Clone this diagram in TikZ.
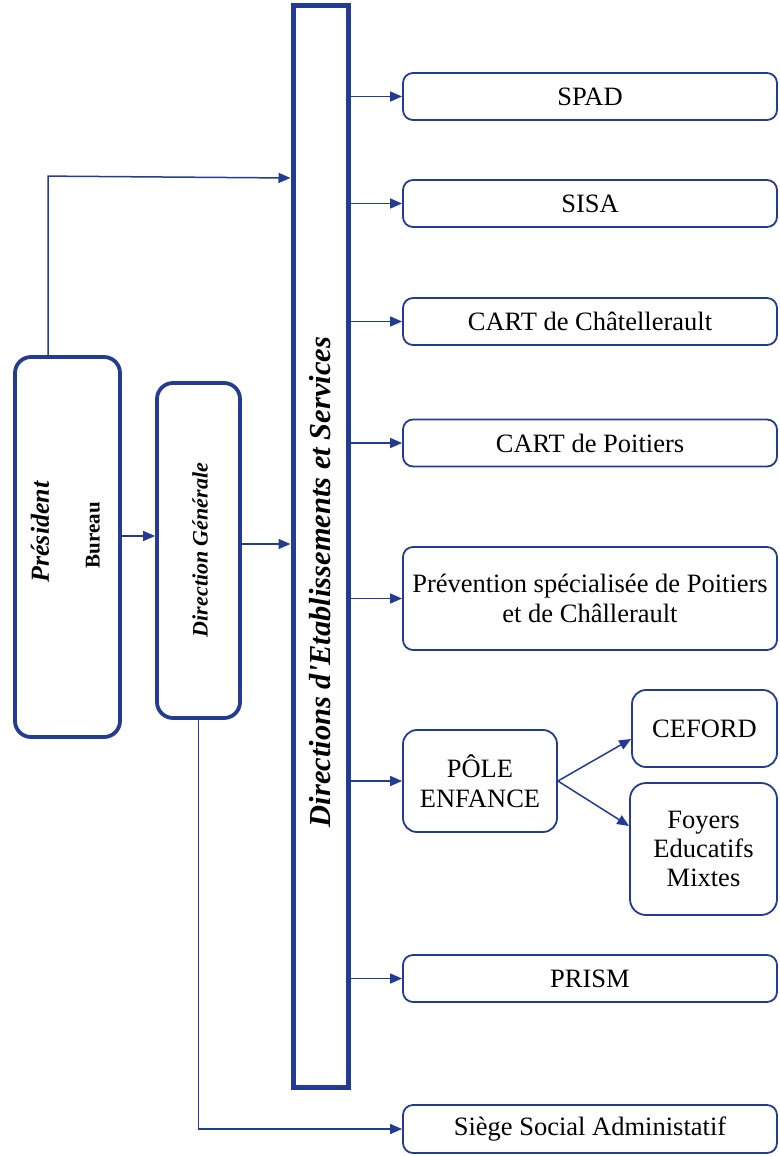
\documentclass[tikz,border=0pt]{standalone}
\usepackage{fontspec}
\setmainfont{Liberation Serif}[Ligatures=TeXOff]
\usetikzlibrary{arrows.meta}
\definecolor{bl}{RGB}{35,60,145}
\tikzset{
  arr/.style={draw=bl, line width=1.5pt, -{Triangle[length=12pt,width=10pt]}},
  rbox/.style={draw=bl, line width=1.8pt, rounded corners=10pt, inner sep=0pt, align=center,
    font=\fontsize{26.5}{30.5}\selectfont},
  lbox/.style={draw=bl, line width=3.8pt, rounded corners=16pt, inner sep=0pt},
  tallbox/.style={draw=bl, line width=5pt, inner sep=0pt},
}
\begin{document}
\begin{tikzpicture}[x=1pt,y=-1pt]
\useasboundingbox (0,0) rectangle (779,1156);
% left boxes
\node[lbox, minimum width=105, minimum height=380] (pres) at (67.5,547) {};
\node[lbox, minimum width=83, minimum height=335] (dg) at (198.5,550.5) {};
\node[tallbox, minimum width=55, minimum height=1081] (tall) at (320.5,546.5) {};
\node[rotate=90, font=\fontsize{26}{28}\selectfont\bfseries\itshape] (prest) at (40,532) {Président};
\node[rotate=90, font=\fontsize{21}{24}\selectfont\bfseries] (bur) at (93,535) {Bureau};
\node[rotate=90, font=\fontsize{22}{24}\selectfont\bfseries\itshape] (dgt) at (200,550) {Direction Générale};
\node[rotate=90, font=\fontsize{30.5}{32}\selectfont\bfseries\itshape] (tallt) at (320,582) {Directions d'Etablissements et Services};
% right boxes
\node[rbox, minimum width=374, minimum height=47] (spad) at (590,96.5) {SPAD};
\node[rbox, minimum width=374, minimum height=47] (sisa) at (590,203.5) {SISA};
\node[rbox, minimum width=374, minimum height=47] (cartc) at (590,321.5) {CART de Châtellerault};
\node[rbox, minimum width=374, minimum height=47] (cartp) at (590,443) {CART de Poitiers};
\node[rbox, minimum width=374, minimum height=103] (prev) at (590,598.5) {Prévention spécialisée de Poitiers\\et de Châllerault};
\node[rbox, minimum width=154, minimum height=102, rounded corners=14pt] (pole) at (480,781) {PÔLE\\ENFANCE};
\node[rbox, minimum width=145, minimum height=77, rounded corners=14pt] (ceford) at (704.5,728.5) {CEFORD};
\node[rbox, minimum width=147, minimum height=132, rounded corners=16pt, font=\fontsize{26.5}{29}\selectfont] (foyers) at (703.5,849) {Foyers\\Educatifs\\Mixtes};
\node[rbox, minimum width=374, minimum height=47] (prism) at (590,978.5) {PRISM};
\node[rbox, minimum width=374, minimum height=48] (siege) at (590,1129) {Siège Social Administatif};
% connectors
\draw[arr] ([xshift=35pt]pres.north west) -- ++(0,-179) -- (tall.west |- 0,178);
\draw[arr] (pres.east |- 0,536) -- (dg.west |- 0,536);
\draw[arr] (dg.east |- 0,544) -- (tall.west |- 0,544);
\foreach \b in {spad,sisa,cartc,cartp,prev,pole,prism}
  \draw[arr] (tall.east |- \b.west) -- (\b.west);
\draw[arr] (pole.east) -- (ceford.west |- 0,739);
\draw[arr] (pole.east) -- (foyers.west |- 0,826);
\draw[arr] (dg.south) -- (dg.south |- siege.west) -- (siege.west);
\end{tikzpicture}
\end{document}
